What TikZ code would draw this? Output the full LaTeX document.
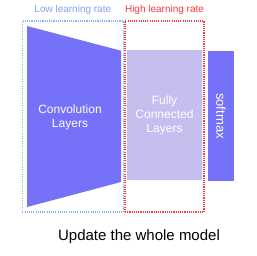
\documentclass[tikz,border=0pt]{standalone}
\usepackage{fontspec}
\setmainfont{Liberation Sans}
\usetikzlibrary{positioning}
\usepackage{xcolor}
\definecolor{lowblue}{HTML}{8CB2F2}
\definecolor{lowtext}{HTML}{7FA4EE}
\definecolor{highred}{HTML}{FF3838}
\definecolor{convpurple}{HTML}{7571F8}
\definecolor{fclavender}{HTML}{C5BFEF}

\begin{document}
\begin{tikzpicture}[x=1pt, y=-1pt,
    ratebox/.style={dash pattern=on 1.1pt off 1.1pt, line width=1.2pt,
      minimum height=191pt, inner sep=0pt},
    ratelabel/.style={font=\fontsize{10}{12}\selectfont, inner sep=0pt, above=6pt},
    layertext/.style={text=white, font=\fontsize{12}{14}\selectfont, align=center}]
  \useasboundingbox (0,0) rectangle (257,255);
  % learning rate regions
  \node[ratebox, draw=lowblue, minimum width=101pt] (low) at (72.8,116.4) {};
  \node[ratebox, draw=highred, minimum width=79pt] (high) at (164.5,116.4) {};
  \node[ratelabel, text=lowtext] (lowlabel) at (low.north) {Low learning rate};
  \node[ratelabel, text=highred] (highlabel) at (high.north) {High learning rate};
  % layers
  \fill[convpurple] (27,26) -- (121,50.7) -- (121,182) -- (27,207) -- cycle;
  \node[layertext] (conv) at (70,117) {Convolution\\Layers};
  \node[fill=fclavender, minimum width=75pt, minimum height=130pt, layertext] (fc)
    at (164.5,115) {Fully\\Connected\\Layers};
  \node[fill=convpurple, rotate=-90, minimum width=130pt, minimum height=26pt,
    text=white, font=\fontsize{13}{15}\selectfont] (softmax) at (221,116) {softmax};
  \node[font=\fontsize{15}{18}\selectfont] (caption) at (139,237) {Update the whole model};
\end{tikzpicture}
\end{document}
